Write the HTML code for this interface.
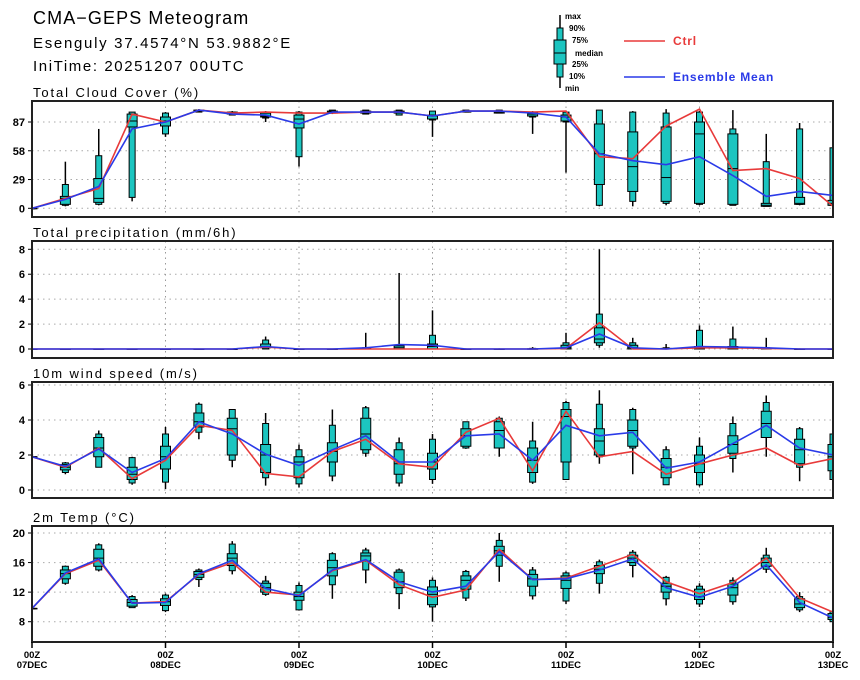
<!DOCTYPE html>
<html><head><meta charset="utf-8"><style>
body{margin:0;background:#fff;}
svg{display:block;font-family:"Liberation Sans",sans-serif;}
</style></head><body>
<svg id="chart" width="860" height="680" viewBox="0 0 860 680" xmlns="http://www.w3.org/2000/svg">
<text x="33" y="24" font-size="18" letter-spacing="1.1">CMA−GEPS Meteogram</text>
<text x="33" y="48" font-size="15" letter-spacing="1.7">Esenguly 37.4574°N 53.9882°E</text>
<text x="33" y="71" font-size="15" letter-spacing="1.6">IniTime: 20251207 00UTC</text>
<g>
<line x1="560" y1="15" x2="560" y2="88" stroke="#000" stroke-width="1.5"/>
<rect x="557" y="28" width="6" height="49" fill="#1cc5c0" stroke="#000"/>
<rect x="554" y="40" width="12" height="24" fill="#1cc5c0" stroke="#000"/>
<line x1="554" y1="53" x2="566" y2="53" stroke="#000"/>
<g font-size="8" font-weight="bold">
<text x="565" y="19">max</text><text x="569" y="31">90%</text><text x="572" y="43">75%</text>
<text x="575" y="56">median</text><text x="572" y="67">25%</text><text x="569" y="79">10%</text><text x="565" y="91">min</text>
</g></g>
<g><line x1="624" y1="41" x2="665" y2="41" stroke="#e83a3a" stroke-width="1.5"/><text x="673" y="45" font-size="12" letter-spacing="0.8" font-weight="bold" fill="#e83a3a">Ctrl</text></g>
<g><line x1="624" y1="77" x2="665" y2="77" stroke="#2a3ae8" stroke-width="1.5"/><text x="673" y="81" font-size="12" letter-spacing="0.8" font-weight="bold" fill="#2a3ae8">Ensemble Mean</text></g>
</svg>
<script>
const days=["07DEC","08DEC","09DEC","10DEC","11DEC","12DEC","13DEC"];
const cloudMax=[0,47,80,97,97,100,98,98,98,99,99,99,98,99,99,98,98,99,98,100,98,99,75,86,61];
const cloudP90=[0,24,53,97,96,99,97,97,97,99,99,99,98,99,99,97,97,99,97,96,97,80,47,80,61];
const cloudP75=[0,12,30,95,92,99,97,96,94,98,98,98,94,98,98,96,94,85,77,82,87,75,5,11,8];
const cloudMed=[0,10,10,88,88,98,96,93,90,97,97,97,93,98,97,95,92,55,42,31,75,40,3,5,5];
const cloudP25=[0,4,6,82,83,98,95,92,81,96,96,96,90,97,96,93,88,24,17,7,5,4,2,4,3];
const cloudP10=[0,3,4,11,75,97,94,91,52,96,95,94,89,97,96,92,87,3,7,5,4,3,2,4,3];
const cloudMin=[0,2,3,7,72,97,94,87,42,95,95,94,72,97,96,75,36,2,2,3,3,3,2,3,2];
const cloudCtrl=[0,10,20,95,87,99,96,97,96,96,97,97,93,98,98,97,98,52,50,83,100,38,40,30,2];
const cloudMean=[0,9,22,80,87,99,95,94,85,97,97,97,93,98,98,96,92,55,48,44,52,33,12,17,13];
const cloudTicks=[0,29,58,87];
const precMax=[0,0,0,0,0,0,0,1.0,0,0,1.3,6.1,3.1,0.05,0.05,0.15,1.3,8,0.9,0.4,1.9,1.8,0.9,0.05,0];
const precP90=[0,0,0,0,0,0,0,0.72,0,0,0.1,0.3,1.1,0,0,0.05,0.5,2.8,0.5,0.1,1.5,0.8,0.1,0,0];
const precP75=[0,0,0,0,0,0,0,0.4,0,0,0.05,0.25,0.4,0,0,0.02,0.3,1.7,0.3,0.05,0.2,0.2,0.05,0,0];
const precMed=[0,0,0,0,0,0,0,0.2,0,0,0.02,0.1,0.2,0,0,0,0.1,0.8,0.1,0,0.1,0.1,0,0,0];
const precP25=[0,0,0,0,0,0,0,0.1,0,0,0,0,0,0,0,0,0,0.5,0,0,0,0,0,0,0];
const precP10=[0,0,0,0,0,0,0,0,0,0,0,0,0,0,0,0,0,0.3,0,0,0,0,0,0,0];
const precMin=[0,0,0,0,0,0,0,0,0,0,0,0,0,0,0,0,0,0.1,0,0,0,0,0,0,0];
const precCtrl=[0,0,0,0,0,0,0,0.15,0,0,0,0,0,0,0,0,0.05,2.1,0,0,0.1,0.1,0.05,0,0];
const precMean=[0,0,0,0,0,0,0,0.2,0,0,0.1,0.35,0.3,0,0,0,0.1,1.2,0.1,0,0.2,0.15,0.1,0,0];
const precTicks=[0,2,4,6,8];
const windMax=[1.9,1.6,3.4,1.9,3.6,5.0,4.6,4.4,2.6,4.6,4.8,3.0,3.2,3.9,4.2,3.9,5.1,5.7,4.7,2.5,3.0,4.2,5.4,3.6,3.2];
const windP90=[1.9,1.55,3.2,1.85,3.2,4.9,4.6,3.8,2.3,3.7,4.7,2.7,2.9,3.9,4.1,2.8,5.0,4.9,4.6,2.3,2.5,3.8,5.0,3.5,3.2];
const windP75=[1.9,1.45,3.0,1.3,2.5,4.4,4.1,2.6,1.9,2.7,4.1,2.3,2.1,3.5,3.9,2.4,4.6,3.5,4.0,1.8,2.0,3.1,4.5,2.9,2.6];
const windMed=[1.9,1.3,2.4,0.9,1.9,3.9,3.5,2.0,1.6,2.2,3.2,1.5,1.6,3.1,3.4,1.7,4.2,2.8,3.4,1.3,1.5,2.6,3.8,2.3,1.9];
const windP25=[1.9,1.15,1.9,0.6,1.2,3.6,2.0,1.0,0.7,1.6,2.3,0.9,1.2,2.5,2.4,1.0,1.6,2.0,2.5,0.7,1.0,2.1,3.0,1.5,1.1];
const windP10=[1.9,1.0,1.3,0.4,0.45,3.3,1.7,0.7,0.35,0.8,2.1,0.4,0.6,2.4,2.4,0.45,0.6,1.9,2.4,0.3,0.3,1.8,3.0,1.3,0.6];
const windMin=[1.9,0.9,1.3,0.3,0.05,2.9,1.3,0.25,0.15,0.5,1.9,0.2,0.35,2.35,1.9,0.35,0.6,1.5,0.9,0.3,0.2,1.0,1.9,0.5,0.6];
const windCtrl=[1.9,1.3,2.4,0.65,1.7,3.7,3.4,0.95,0.75,2.2,2.9,1.5,1.3,3.3,4.1,1.1,4.5,1.9,2.2,0.9,1.5,2.0,2.4,1.4,1.8];
const windMean=[1.9,1.35,2.35,1.0,1.8,3.9,3.2,2.05,1.4,2.3,3.1,1.6,1.6,3.1,3.2,1.7,3.7,3.1,3.3,1.25,1.6,2.65,3.7,2.4,2.0];
const windTicks=[0,2,4,6];
const tempMax=[9.8,15.6,18.6,11.6,11.8,15.2,18.9,14.2,13.3,17.4,18.0,15.2,14.0,15.0,20.0,15.4,14.8,16.4,17.7,14.2,13.2,14.0,18.0,12.0,9.5];
const tempP90=[9.8,15.5,18.4,11.4,11.6,15.0,18.5,13.5,12.9,17.2,17.7,15.0,13.6,14.8,19.0,15.0,14.6,16.1,17.4,14.0,12.8,13.6,17.0,11.4,9.4];
const tempP75=[9.8,15.0,17.8,11.0,11.1,14.8,17.2,13.2,12.0,16.3,17.3,14.7,12.7,14.2,18.2,14.4,14.2,15.6,17.0,13.2,12.4,13.1,16.6,11.1,9.1];
const tempMed=[9.8,14.5,16.6,10.6,10.7,14.4,16.6,12.6,11.4,15.3,16.9,13.4,11.7,13.6,17.6,13.8,13.6,15.1,16.6,12.8,11.4,12.6,16.0,10.4,8.6];
const tempP25=[9.8,13.8,15.5,10.1,10.2,14.0,15.6,12.0,10.9,14.2,16.2,12.6,10.3,12.4,17.0,12.8,12.5,14.5,16.0,12.0,11.0,11.6,15.5,9.9,8.3];
const tempP10=[9.8,13.2,15.0,9.9,9.5,13.7,14.9,11.7,9.6,13.0,15.0,11.8,10.0,11.2,15.5,11.5,10.8,13.2,15.6,11.1,10.4,10.7,15.1,9.6,8.0];
const tempMin=[9.8,13.0,14.8,9.9,9.3,12.7,14.4,11.5,9.5,11.1,13.2,9.7,8.0,10.8,13.4,11.0,10.4,11.8,14.0,10.2,10.0,10.3,14.6,9.3,7.9];
const tempCtrl=[9.8,14.5,16.3,10.5,10.7,14.4,16.0,12.0,11.6,14.9,16.3,13.0,11.3,12.3,17.8,13.7,13.9,15.5,17.1,13.4,11.8,13.3,16.6,11.2,9.3];
const tempMean=[9.8,14.6,16.5,10.5,10.6,14.5,16.3,12.5,11.5,15.0,16.4,13.4,12.0,12.8,17.5,13.7,13.8,15.0,16.5,12.6,11.3,12.8,15.7,10.6,8.5];
const tempTicks=[8,12,16,20];

const NS="http://www.w3.org/2000/svg";
const svg=document.getElementById('chart');
const X0=32,X1=833,NSTEP=24;
function xs(i){return X0+(X1-X0)*i/NSTEP;}
function mk(tag,attrs,parent){const e=document.createElementNS(NS,tag);for(const k in attrs)e.setAttribute(k,attrs[k]);(parent||svg).appendChild(e);return e;}

function panel(id,title,top,bot,v0,y0,v1,y1,ticks,d){
  const ys=v=>y0+(v-v0)*(y1-y0)/(v1-v0);
  const g=mk('g',{});
  
  
  const t=mk('text',{x:33,y:top-4,'font-size':13,'letter-spacing':'1.9'},g);t.textContent=title;
  
  
  const cp=mk('clipPath',{id:'clip-'+id},g);mk('rect',{x:X0,y:top,width:X1-X0,height:bot-top},cp);
  ticks.forEach(v=>{
    const gl=mk('line',{x1:X0,x2:X1,y1:ys(v),y2:ys(v),stroke:'#aaa','stroke-dasharray':'1.5,4'},g);
    
    
    const tl=mk('text',{x:25,y:ys(v)+4,'font-size':11,'font-weight':'bold','text-anchor':'end'},g);tl.textContent=v;
    
    
    mk('line',{x1:X0-4,x2:X0,y1:ys(v),y2:ys(v),stroke:'#000'},g);
  });
  for(let k=1;k<days.length-1;k++){mk('line',{x1:xs(k*4),x2:xs(k*4),y1:top,y2:bot,stroke:'#999','stroke-dasharray':'1.5,4'},g);}
  const cg=mk('g',{'clip-path':'url(#clip-'+id+')'},g);
  for(let i=0;i<d.max.length;i++){
    const x=xs(i);
    const bx=mk('g',{},cg);
    
    
    mk('line',{x1:x,x2:x,y1:ys(d.max[i]),y2:ys(d.min[i]),stroke:'#000','stroke-width':1.5},bx);
    mk('rect',{x:x-3,y:ys(d.p90[i]),width:6,height:Math.max(0.5,ys(d.p10[i])-ys(d.p90[i])),fill:'#1cc5c0',stroke:'#000'},bx);
    mk('rect',{x:x-5,y:ys(d.p75[i]),width:10,height:Math.max(0.5,ys(d.p25[i])-ys(d.p75[i])),fill:'#1cc5c0',stroke:'#000'},bx);
    mk('line',{x1:x-5,x2:x+5,y1:ys(d.med[i]),y2:ys(d.med[i]),stroke:'#000'},bx);
  }
  const pts=a=>a.map((v,i)=>xs(i).toFixed(1)+','+ys(v).toFixed(1)).join(' ');
  const rl=mk('polyline',{points:pts(d.ctrl),fill:'none',stroke:'#e83a3a','stroke-width':1.6},cg);
  
  
  const bl=mk('polyline',{points:pts(d.mean),fill:'none',stroke:'#2a3ae8','stroke-width':1.6},cg);
  
  
  const fr=mk('rect',{x:X0,y:top,width:X1-X0,height:bot-top,fill:'none',stroke:'#222','stroke-width':2},g);
  
  
}
panel('cloud','Total Cloud Cover (%)',101,217,0,208.3,87,122,cloudTicks,{max:cloudMax,p90:cloudP90,p75:cloudP75,med:cloudMed,p25:cloudP25,p10:cloudP10,min:cloudMin,ctrl:cloudCtrl,mean:cloudMean});
panel('precip','Total precipitation (mm/6h)',241,358,0,349,8,249.3,precTicks,{max:precMax,p90:precP90,p75:precP75,med:precMed,p25:precP25,p10:precP10,min:precMin,ctrl:precCtrl,mean:precMean});
panel('wind','10m wind speed (m/s)',382,498,0,490,6,385,windTicks,{max:windMax,p90:windP90,p75:windP75,med:windMed,p25:windP25,p10:windP10,min:windMin,ctrl:windCtrl,mean:windMean});
panel('temp','2m Temp (°C)',526,642,8,621.7,20,533,tempTicks,{max:tempMax,p90:tempP90,p75:tempP75,med:tempMed,p25:tempP25,p10:tempP10,min:tempMin,ctrl:tempCtrl,mean:tempMean});
days.forEach((dd,k)=>{
  const x=xs(k*4);
  mk('line',{x1:x,x2:x,y1:642,y2:648,stroke:'#000','stroke-width':1.5});
  const a=mk('text',{x:x,y:658,'font-size':9.5,'font-weight':'bold','text-anchor':'middle'});a.textContent='00Z';
  
  
  const b=mk('text',{x:x,y:668,'font-size':9.5,'font-weight':'bold','text-anchor':'middle'});b.textContent=dd;
  
  
});
</script>
</body></html>
